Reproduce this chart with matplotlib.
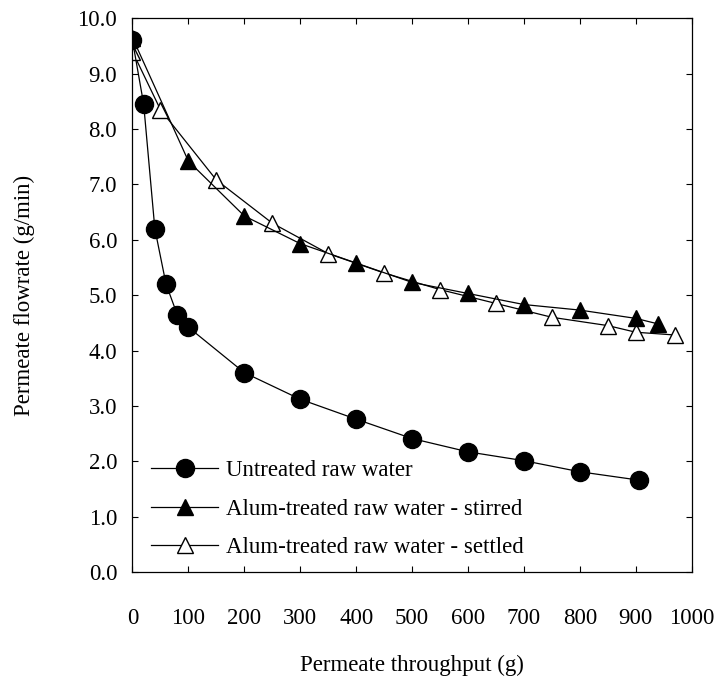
import matplotlib
matplotlib.use("Agg")
import matplotlib.pyplot as plt

plt.rcParams['font.family'] = ['Liberation Serif', 'DejaVu Serif']

# untreated raw water
x_raw = [0, 20, 40, 60, 80, 100, 200, 300, 400, 500, 600, 700, 800, 905]
y_raw = [9.6, 8.45, 6.2, 5.2, 4.65, 4.42, 3.6, 3.12, 2.76, 2.41, 2.17, 2.01, 1.81, 1.66]

# alum-treated, stirred
x_stir = [0, 100, 200, 300, 400, 500, 600, 700, 800, 900, 940]
y_stir = [9.65, 7.42, 6.43, 5.93, 5.58, 5.23, 5.03, 4.83, 4.73, 4.58, 4.48]

# alum-treated, settled
x_settle = [0, 50, 150, 250, 350, 450, 550, 650, 750, 850, 900, 970]
y_settle = [9.4, 8.35, 7.08, 6.3, 5.75, 5.4, 5.1, 4.85, 4.6, 4.45, 4.33, 4.28]

labels = ['Untreated raw water',
          'Alum-treated raw water - stirred',
          'Alum-treated raw water - settled']

fs = 16.5

fig = plt.figure(figsize=(7.18, 6.82), dpi=100)
ax = fig.add_axes([0.1845, 0.1613, 0.7789, 0.8119])

ax.plot(x_settle, y_settle, color='black', lw=0.9, marker='^', ms=11,
        mfc='white', mec='black', mew=1.0, label=labels[2])
ax.plot(x_stir, y_stir, color='black', lw=0.9, marker='^', ms=11,
        mfc='black', mec='black', label=labels[1])
ax.plot(x_raw, y_raw, color='black', lw=0.9, marker='o', ms=13,
        mfc='black', mec='black', label=labels[0])

ax.set_xlim(0, 1000)
ax.set_ylim(0, 10)
ax.set_xticks(range(0, 1001, 100))
ax.set_yticks([i * 1.0 for i in range(11)])
ax.set_yticklabels(['%.1f' % v for v in ax.get_yticks()])

ax.tick_params(direction='in', top=True, right=True, length=4.5, width=0.8,
               labelsize=fs)
ax.tick_params(axis='x', pad=26)
ax.tick_params(axis='y', pad=11)
for s in ax.spines.values():
    s.set_linewidth(0.9)

ax.set_xlabel('Permeate throughput (g)', fontsize=fs, va='center')
ax.xaxis.set_label_coords(0.5, -0.168)
ax.set_ylabel('Permeate flowrate (g/min)', fontsize=fs, va='center')
ax.yaxis.set_label_coords(-0.1935, 0.5)

h, l = ax.get_legend_handles_labels()
order = [2, 1, 0]
ax.legend([h[i] for i in order], [l[i] for i in order], loc='lower left',
          bbox_to_anchor=(0.034, 0.025), frameon=False, fontsize=fs,
          handlelength=2.9, handletextpad=0.35, labelspacing=0.76,
          borderpad=0, borderaxespad=0)

fig.savefig('out.png', dpi=100)
